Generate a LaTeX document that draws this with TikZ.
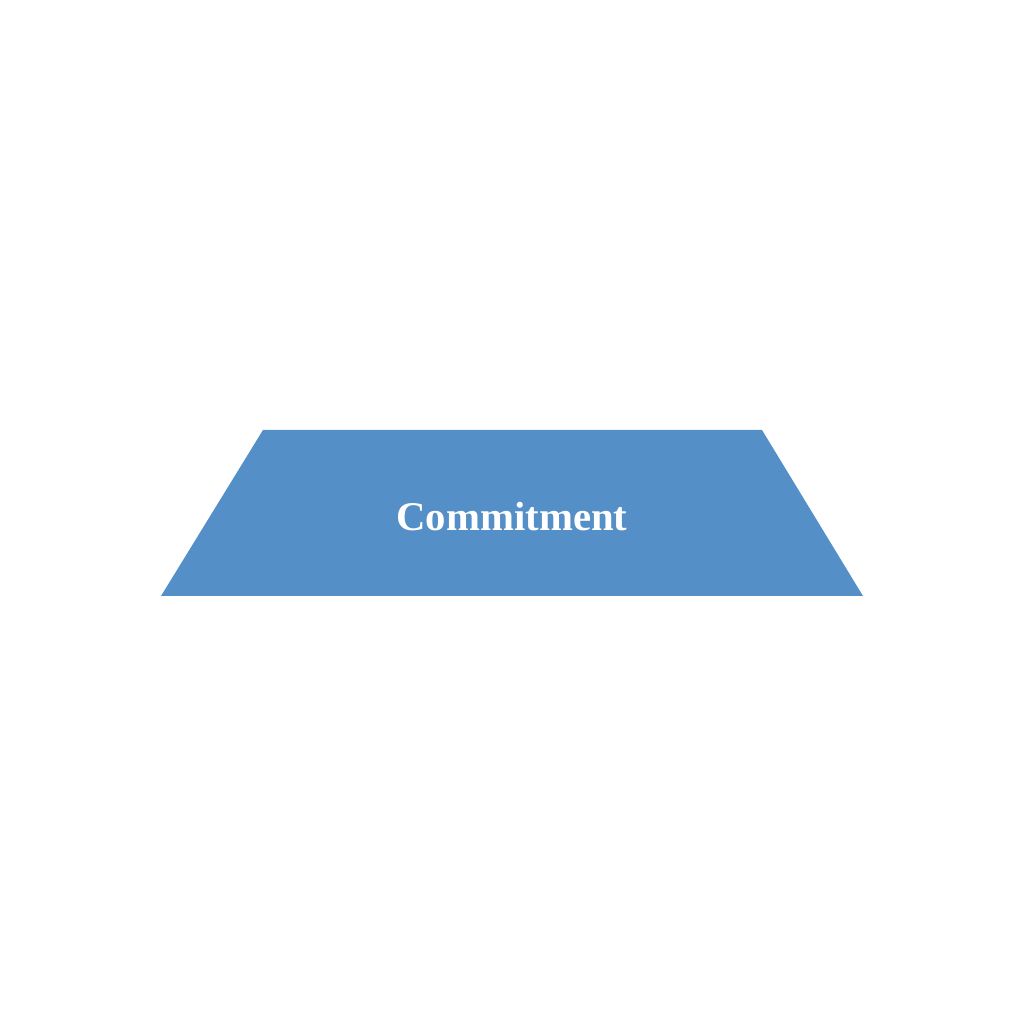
\documentclass[tikz,border=0pt]{standalone}
\usepackage{fontspec}
\setmainfont{Liberation Serif}
\usepackage{tikz}
\definecolor{stepblue}{RGB}{84,143,199}

\begin{document}
\begin{tikzpicture}[
		band/.style={fill=stepblue},
		lbl/.style={text=white,font=\bfseries\fontsize{11.6}{14}\selectfont,inner sep=0pt,anchor=base}]
	%% page
	\useasboundingbox (0,0) rectangle (10.24,10.24);
	%% corners of the band
	\coordinate (bl) at (1.61,4.28);
	\coordinate (br) at (8.63,4.28);
	\coordinate (tr) at (7.62,5.94);
	\coordinate (tl) at (2.63,5.94);
	\fill[band] (bl) -- (br) -- (tr) -- (tl) -- cycle;
	%% label
	\node[lbl] (commit) at (5.12,4.93) {Commitment};
\end{tikzpicture}
\end{document}
